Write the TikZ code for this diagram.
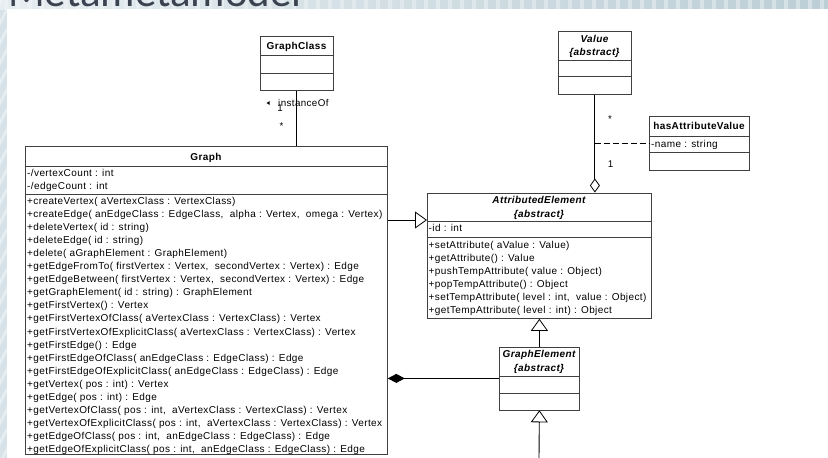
\documentclass[tikz,border=0pt]{standalone}
\usepackage{fontspec}
\setmainfont{Liberation Sans}
\newfontfamily\umlfont[LetterSpace=4]{Liberation Sans}
\newfontfamily\headfont{Carlito}
\usetikzlibrary{arrows.meta}

\definecolor{slidebg}{HTML}{D6E2E7}
\definecolor{slidedark}{HTML}{BCCED6}
\definecolor{stripe}{HTML}{F2F6F8}
\definecolor{titlecol}{HTML}{3B4250}
\definecolor{boxline}{HTML}{404040}

\tikzset{
  umlbox/.style={draw=boxline, line width=0.8pt, fill=white, inner sep=0pt, anchor=north west},
  divider/.style={draw=boxline, line width=0.8pt},
  member/.style={font=\umlfont\fontsize{10}{12}\selectfont, inner sep=0pt, anchor=base west},
  ctitle/.style={font=\umlfont\fontsize{10}{12}\selectfont\bfseries, inner sep=0pt, anchor=base},
  atitle/.style={font=\umlfont\fontsize{10}{12}\selectfont\bfseries\itshape, inner sep=0pt, anchor=base},
  mult/.style={font=\umlfont\fontsize{9.8}{11}\selectfont, inner sep=0pt, anchor=base},
  conn/.style={draw=black, line width=0.9pt},
  gen/.style={conn, -{Triangle[open, length=12pt, width=17pt, line width=0.8pt]}},
  comp/.style={conn, -{Diamond[length=17pt, width=9pt]}},
  aggr/.style={conn, -{Diamond[open, length=14pt, width=10pt, line width=0.8pt]}},
  assocline/.style={draw=black, line width=0.9pt, dash pattern=on 6pt off 3pt},
}

\begin{document}
\begin{tikzpicture}[x=1pt, y=-1pt]
\useasboundingbox (0,0) rectangle (828,458);

% slide background with its striped border bands
\fill[slidebg] (0,0) rectangle (828,458);
\shade[left color=slidebg!60!white, right color=slidedark] (0,0) rectangle (828,9);
\foreach \sx in {4,16,...,820} \fill[stripe, opacity=0.45] (\sx,0) rectangle ++(4,9);
\begin{scope}
  \clip (0,0) rectangle (7,458);
  \foreach \sy in {-20,0,...,470} \fill[stripe, opacity=0.6] (0,\sy) -- (7,\sy-14) -- (7,\sy-8) -- (0,\sy+6) -- cycle;
\end{scope}
\fill[white] (7,9) rectangle (828,458);

% slide heading, mostly above the visible area
\node[font=\headfont\fontsize{43}{50}\selectfont, text=titlecol, inner sep=0pt, anchor=base west] (heading) at (8,6.5) {Metametamodel};

% ---------- GraphClass ----------
\node[umlbox, minimum width=73pt, minimum height=54pt] (gc) at (260,36) {};
\draw[divider] ([yshift=-19pt]gc.north west) -- ([yshift=-19pt]gc.north east);
\draw[divider] ([yshift=-37pt]gc.north west) -- ([yshift=-37pt]gc.north east);
\node[ctitle] (gc-t) at (296.5,49) {GraphClass};

% ---------- Graph ----------
\node[umlbox, minimum width=362pt, minimum height=308pt] (graph) at (25,146) {};
\draw[divider] ([yshift=-20.5pt]graph.north west) -- ([yshift=-20.5pt]graph.north east);
\draw[divider] ([yshift=-48pt]graph.north west) -- ([yshift=-48pt]graph.north east);
\node[ctitle] (graph-t) at (206,160) {Graph};
\node[member] (graph-a1) at (27,176.5) {-/vertexCount : int};
\node[member] (graph-a2) at (27,189) {-/edgeCount : int};
\foreach \op [count=\i] in {
  {+createVertex( aVertexClass : VertexClass)},
  {+createEdge( anEdgeClass : EdgeClass,~~alpha : Vertex,~~omega : Vertex)},
  {+deleteVertex( id : string)},
  {+deleteEdge( id : string)},
  {+delete( aGraphElement : GraphElement)},
  {+getEdgeFromTo( firstVertex : Vertex,~~secondVertex : Vertex) : Edge},
  {+getEdgeBetween( firstVertex : Vertex,~~secondVertex : Vertex) : Edge},
  {+getGraphElement( id : string) : GraphElement},
  {+getFirstVertex() : Vertex},
  {+getFirstVertexOfClass( aVertexClass : VertexClass) : Vertex},
  {+getFirstVertexOfExplicitClass( aVertexClass : VertexClass) : Vertex},
  {+getFirstEdge() : Edge},
  {+getFirstEdgeOfClass( anEdgeClass : EdgeClass) : Edge},
  {+getFirstEdgeOfExplicitClass( anEdgeClass : EdgeClass) : Edge},
  {+getVertex( pos : int) : Vertex},
  {+getEdge( pos : int) : Edge},
  {+getVertexOfClass( pos : int,~~aVertexClass : VertexClass) : Vertex},
  {+getVertexOfExplicitClass( pos : int,~~aVertexClass : VertexClass) : Vertex},
  {+getEdgeOfClass( pos : int,~~anEdgeClass : EdgeClass) : Edge},
  {+getEdgeOfExplicitClass( pos : int,~~anEdgeClass : EdgeClass) : Edge}}
  \node[member] (graph-op\i) at (27,{204+13.1*(\i-1)}) {\op};

% ---------- Value ----------
\node[umlbox, minimum width=73pt, minimum height=63pt] (val) at (558,31) {};
\draw[divider] ([yshift=-29pt]val.north west) -- ([yshift=-29pt]val.north east);
\draw[divider] ([yshift=-45.5pt]val.north west) -- ([yshift=-45.5pt]val.north east);
\node[atitle] (val-t1) at (594.5,42) {Value};
\node[atitle] (val-t2) at (594.5,55.7) {\{abstract\}};

% ---------- hasAttributeValue ----------
\node[umlbox, minimum width=100pt, minimum height=54pt] (hav) at (649,116) {};
\draw[divider] ([yshift=-20pt]hav.north west) -- ([yshift=-20pt]hav.north east);
\draw[divider] ([yshift=-36pt]hav.north west) -- ([yshift=-36pt]hav.north east);
\node[ctitle] (hav-t) at (699,129.5) {hasAttributeValue};
\node[member] (hav-a1) at (651,147) {-name : string};

% ---------- AttributedElement ----------
\node[umlbox, minimum width=224pt, minimum height=125.5pt] (ae) at (427,192.5) {};
\draw[divider] ([yshift=-29pt]ae.north west) -- ([yshift=-29pt]ae.north east);
\draw[divider] ([yshift=-45pt]ae.north west) -- ([yshift=-45pt]ae.north east);
\node[atitle] (ae-t1) at (539,203.5) {AttributedElement};
\node[atitle] (ae-t2) at (539,217) {\{abstract\}};
\node[member] (ae-a1) at (428.5,231.5) {-id : int};
\foreach \op [count=\i] in {
  {+setAttribute( aValue : Value)},
  {+getAttribute() : Value},
  {+pushTempAttribute( value : Object)},
  {+popTempAttribute() : Object},
  {+setTempAttribute( level : int,~~value : Object)},
  {+getTempAttribute( level : int) : Object}}
  \node[member] (ae-op\i) at (428.5,{248+13.1*(\i-1)}) {\op};

% ---------- GraphElement ----------
\node[umlbox, minimum width=80pt, minimum height=63pt] (ge) at (499,346.5) {};
\draw[divider] ([yshift=-29.5pt]ge.north west) -- ([yshift=-29.5pt]ge.north east);
\draw[divider] ([yshift=-47pt]ge.north west) -- ([yshift=-47pt]ge.north east);
\node[atitle] (ge-t1) at (539,357.5) {GraphElement};
\node[atitle] (ge-t2) at (539,371) {\{abstract\}};

% ---------- connectors ----------
% instanceOf association
\draw[conn] (gc.south) -- (gc.south |- graph.north);
\fill (266.5,103) -- (269.5,101.2) -- (269.5,104.8) -- cycle;
\node[mult, anchor=base west] (io) at (278,106.5) {instanceOf};
\node[mult] (io-1) at (280,111.5) {1};
\node[mult] (io-2) at (281.5,129) {*};

% hasAttributeValue aggregation with its association class
\draw[aggr] (val.south) -- (val.south |- ae.north);
\node[mult] (hv-1) at (610,122) {*};
\node[mult] (hv-2) at (610.5,167.5) {1};
\coordinate (hvmid) at (594.5,143.5);
\draw[assocline] (hvmid) -- (hav.west |- hvmid);

% generalisations
\coordinate (genrow) at (0,220);
\draw[gen] (graph.east |- genrow) -- (ae.west |- genrow);
\draw[gen] (ge.north) -- (ge.north |- ae.south);
\coordinate (subclass) at (539,458);
\draw[gen] (subclass) -- (ge.south);

% composition Graph <>-- GraphElement
\draw[comp] (ge.west) -- (graph.east |- ge.west);
\end{tikzpicture}
\end{document}
